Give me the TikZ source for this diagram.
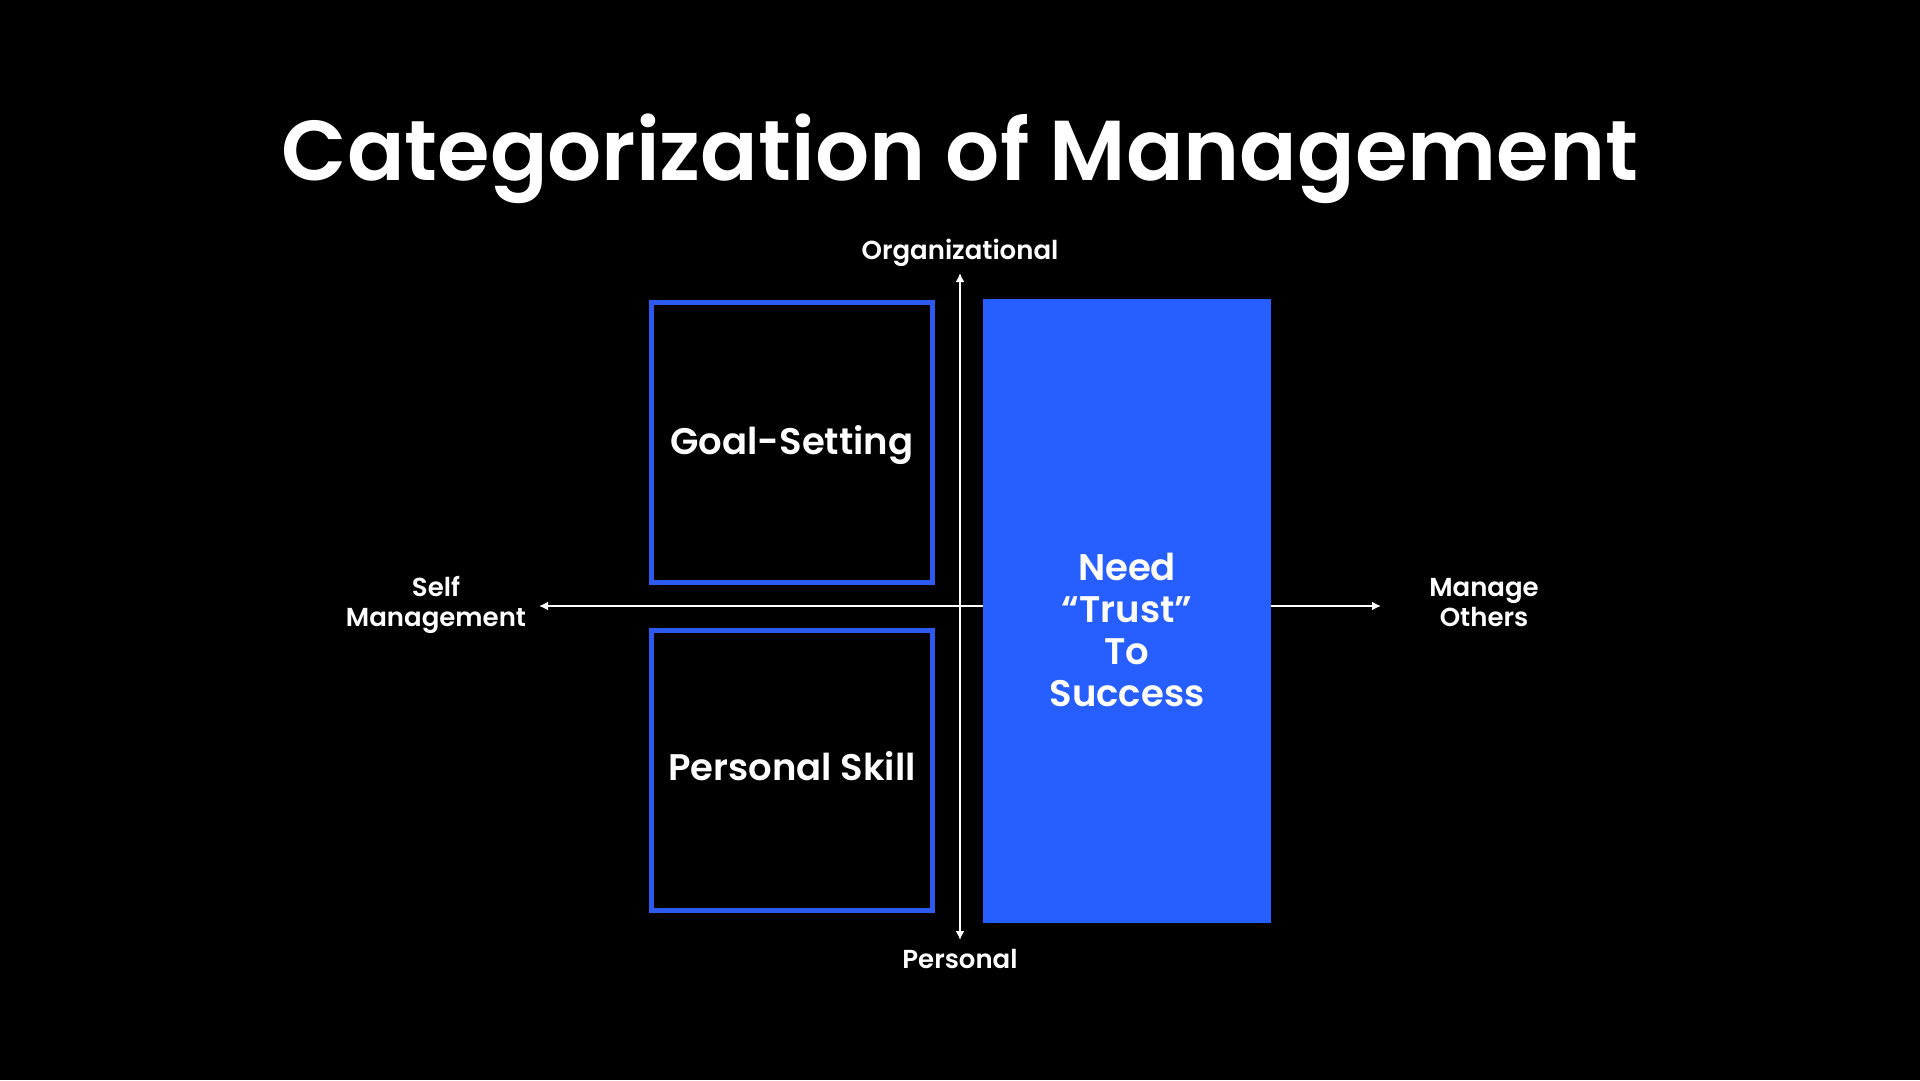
\documentclass[tikz,border=0pt]{standalone}
\usepackage{fontspec}
\setmainfont{Poppins}
\newfontfamily\psemi{Poppins SemiBold}
\newfontfamily\pmed{Poppins Medium}
\usetikzlibrary{arrows.meta}
\definecolor{bfill}{RGB}{38,94,255}
\definecolor{bline}{RGB}{44,90,238}
\begin{document}
\begin{tikzpicture}[x=1pt,y=-1pt,
  titletxt/.style={text=white,font=\fontsize{85}{96}\psemi,inner sep=0pt},
  axislbl/.style={text=white,font=\fontsize{26}{30}\psemi,align=center,inner sep=0pt},
  boxlbl/.style={text=white,font=\fontsize{37}{42}\psemi,align=center,inner sep=0pt},
  quad/.style={draw=bline,line width=5pt,minimum width=281pt,minimum height=280pt,inner sep=0pt},
  axisline/.style={draw=white,line width=2.5pt,{Latex[length=9pt,width=9pt]}-{Latex[length=9pt,width=9pt]}}
]
\fill[black] (0,0) rectangle (1920,1080);
\useasboundingbox (0,0) rectangle (1920,1080);
\node[titletxt] (title) at (960,180) [anchor=base] {Categorization of Management};
\node[axislbl] (org) at (960,252.5) {Organizational};
\node[axislbl] (pers) at (960,959) {Personal};
\node[axislbl] (self) at (436,605) {Self\\Management};
\node[axislbl] (others) at (1484,603) {Manage\\Others};
\coordinate (vt) at (960,273);
\coordinate (vb) at (960,940);
\coordinate (hl) at (539,606);
\coordinate (hr) at (1381,606);
\draw[axisline] (vb) -- (vt);
\draw[axisline] (hl) -- (hr);
\node[quad] (goal) at (792,442.5) {};
\node[boxlbl] (goaltxt) at (goal.center) [yshift=-2.5pt] {Goal-Setting};
\node[quad] (skill) at (792,770) {};
\node[boxlbl] (skilltxt) at (skill.center) [yshift=4pt] {Personal Skill};
\node[fill=bfill,minimum width=288pt,minimum height=624pt,inner sep=0pt] (trust) at (1127,611) {};
\node[boxlbl] (trusttxt) at (1127,630) {Need\\“Trust”\\To\\Success};
\end{tikzpicture}
\end{document}
